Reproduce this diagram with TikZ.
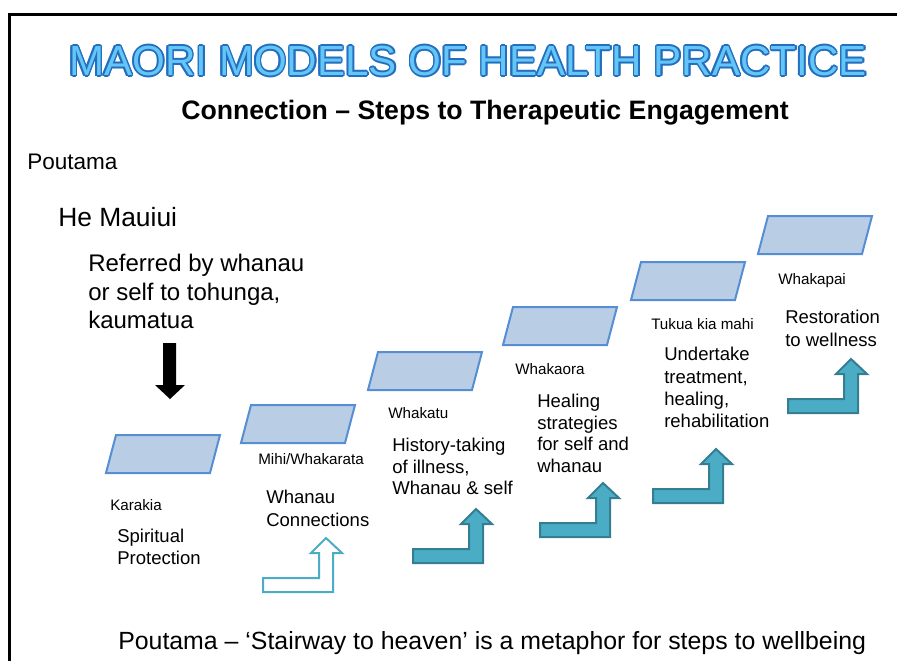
\documentclass[tikz,border=0pt]{standalone}
\usepackage{fontspec}
\setmainfont{Liberation Sans}
\usetikzlibrary{calc}

\definecolor{stepfill}{RGB}{185,205,229}
\definecolor{stepedge}{RGB}{85,142,213}
\definecolor{arrowfill}{RGB}{75,172,198}
\definecolor{arrowedge}{RGB}{53,125,145}
\definecolor{titlefillc}{RGB}{100,198,246}
\definecolor{titleedgec}{RGB}{35,110,190}

\tikzset{
  % a step of the stairway
  pics/stepslab/.style={code={
    \path[pic actions] (0,0) -- (104,0) -- (94,38) -- (-10,38) -- cycle;
  }},
  % an arrow that runs right and then turns up
  pics/bentarrow/.style={code={
    \path[pic actions] (0,0) -- (0,-14) -- (56,-14) -- (56,-39) -- (48,-39)
      -- (63,-54) -- (79,-39) -- (70,-39) -- (70,0) -- cycle;
  }},
  slab/.style={draw=stepedge, fill=stepfill, line width=1.5pt, line join=miter},
  solidarrow/.style={draw=arrowedge, fill=arrowfill, line width=1.5pt, line join=miter},
  hollowarrow/.style={draw=arrowfill, fill=white, line width=1.5pt, line join=miter},
  titletext/.style={inner sep=0pt, font=\fontsize{31.6}{36}\selectfont},
  steplabel/.style={anchor=north west, inner sep=0pt, font=\fontsize{11.4}{13.5}\selectfont},
  stepnote/.style={anchor=north west, inner sep=0pt, align=left, font=\fontsize{13.9}{16.1}\selectfont},
  bigtext/.style={anchor=north west, inner sep=0pt, align=left, font=\fontsize{18}{21.4}\selectfont},
}

\begin{document}
\begin{tikzpicture}[x=0.75pt, y=-0.75pt]
\useasboundingbox (0,0) rectangle (897,661);

% frame
\draw[line width=2.25pt] (9,661) -- (9,14) -- (897,14);

% heading: dark copies around the centre make the outline, the light copy fills it
\foreach \ang [count=\k] in {0,30,...,330}
  \node[titletext, text=titleedgec] (titleedge\k) at ($(468,61)+(\ang:1.6)$) {MAORI MODELS OF HEALTH PRACTICE};
\node[titletext, text=titlefillc] (title) at (468,61) {MAORI MODELS OF HEALTH PRACTICE};
\node[inner sep=0pt, font=\bfseries\fontsize{20}{24}\selectfont] (subtitle) at (485,113) {Connection -- Steps to Therapeutic Engagement};

% left texts
\node[anchor=north west, inner sep=0pt, font=\fontsize{16.9}{20}\selectfont] (poutama) at (27,154) {Poutama};
\node[anchor=north west, inner sep=0pt, font=\fontsize{19.8}{23}\selectfont] (hemauiui) at (58,207) {He Mauiui};
\node[bigtext] (referred) at (88,254) {Referred by whanau\\or self to tohunga,\\kaumatua};

% black down arrow
\path[fill=black] (163,343) -- (176,343) -- (176,385) -- (185,385) -- (170,399) -- (155,385) -- (163,385) -- cycle;

% stairway slabs
\pic[slab] (s1) at (116,435) {stepslab};
\pic[slab] (s2) at (251,405) {stepslab};
\pic[slab] (s3) at (378,352) {stepslab};
\pic[slab] (s4) at (513,307) {stepslab};
\pic[slab] (s5) at (641,262) {stepslab};
\pic[slab] (s6) at (768,216) {stepslab};

% step names and notes
\node[steplabel] (karakia) at (110,499) {Karakia};
\node[stepnote] (spiritual) at (117,529) {Spiritual\\Protection};
\node[steplabel] (mihi) at (258,453) {Mihi/Whakarata};
\node[stepnote, font=\fontsize{13.9}{17}\selectfont] (whanau) at (266,490) {Whanau\\Connections};
\node[steplabel] (whakatu) at (388,407) {Whakatu};
\node[stepnote] (history) at (392,438) {History-taking\\of illness,\\Whanau \& self};
\node[steplabel] (whakaora) at (515,363) {Whakaora};
\node[stepnote] (healing) at (537,394) {Healing\\strategies\\for self and\\whanau};
\node[steplabel] (tukua) at (651,318) {Tukua kia mahi};
\node[stepnote, font=\fontsize{13.9}{16.8}\selectfont] (undertake) at (664,347) {Undertake\\treatment,\\healing,\\rehabilitation};
\node[steplabel] (whakapai) at (778,273) {Whakapai};
\node[stepnote, font=\fontsize{13.9}{17.2}\selectfont] (restoration) at (785,310) {Restoration\\to wellness};

% rising arrows
\pic[hollowarrow] (a1) at (263,592) {bentarrow};
\pic[solidarrow] (a2) at (413,563) {bentarrow};
\pic[solidarrow] (a3) at (540,537) {bentarrow};
\pic[solidarrow] (a4) at (653,503) {bentarrow};
\pic[solidarrow] (a5) at (788,413) {bentarrow};

% footer
\node[bigtext, font=\fontsize{18.65}{22}\selectfont] (footer) at (118,631) {Poutama -- `Stairway to heaven' is a metaphor for steps to wellbeing};
\end{tikzpicture}
\end{document}
